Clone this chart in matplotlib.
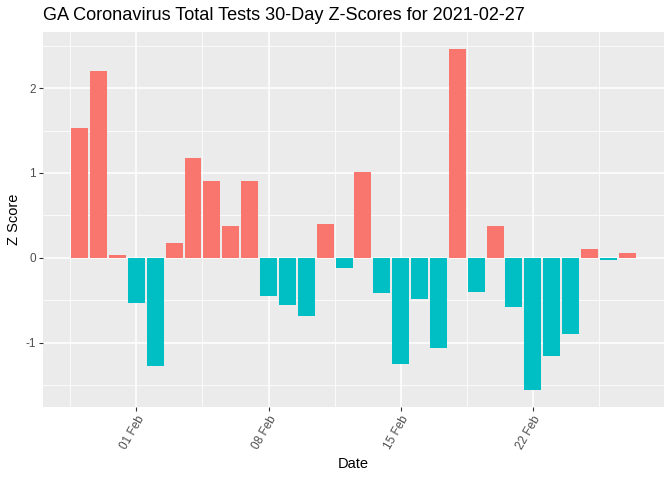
import numpy as np
import pandas as pd
import matplotlib
matplotlib.use("Agg")
import matplotlib.pyplot as plt
import matplotlib.dates as mdates
from matplotlib.ticker import FixedLocator

plt.rcParams["font.family"] = ["Liberation Sans", "DejaVu Sans"]
plt.rcParams["axes.unicode_minus"] = False

# data
dates = pd.date_range("2021-01-29", "2021-02-27", freq="D")
z_scores = [1.53, 2.20, 0.03, -0.53, -1.28, 0.17, 1.18, 0.91, 0.38, 0.91,
            -0.45, -0.56, -0.69, 0.40, -0.12, 1.01, -0.42, -1.25, -0.49, -1.06,
            2.46, -0.40, 0.37, -0.58, -1.56, -1.16, -0.90, 0.10, -0.03, 0.06]
pos_color = "#F8766D"
neg_color = "#00BFC4"

fig = plt.figure(figsize=(6.72, 4.8), dpi=100, facecolor="white")
ax = fig.add_axes([0.064, 0.152, 0.924, 0.781])
ax.set_facecolor("#EBEBEB")

x = mdates.date2num(dates)
vals = np.array(z_scores)
colors = [pos_color if v > 0 else neg_color for v in vals]
ax.bar(x, vals, width=0.9, color=colors, zorder=3)

# ggplot-like expansion
xr = (x.min() - 0.45, x.max() + 0.45)
xpad = (xr[1] - xr[0]) * 0.05
ax.set_xlim(xr[0] - xpad, xr[1] + xpad)
ypad = (vals.max() - vals.min()) * 0.05
ax.set_ylim(vals.min() - ypad, vals.max() + ypad)

major_dates = mdates.date2num(pd.to_datetime(["2021-02-01", "2021-02-08", "2021-02-15", "2021-02-22"]))
ax.xaxis.set_major_locator(FixedLocator(major_dates))
ax.xaxis.set_minor_locator(FixedLocator(np.concatenate([[major_dates[0] - 3.5], major_dates + 3.5])))
ax.xaxis.set_major_formatter(mdates.DateFormatter("%d %b"))
ax.yaxis.set_major_locator(FixedLocator([-1, 0, 1, 2]))
ax.yaxis.set_minor_locator(FixedLocator([-1.5, -0.5, 0.5, 1.5, 2.5]))

ax.grid(which="major", color="white", linewidth=1.1, zorder=1)
ax.grid(which="minor", color="white", linewidth=0.55, zorder=1)
ax.set_axisbelow(True)
for s in ax.spines.values():
    s.set_visible(False)

ax.tick_params(which="major", length=3, color="#333333", width=0.8, pad=2,
               labelsize=8.5, labelcolor="#4D4D4D")
ax.tick_params(which="minor", length=0)
for lbl in ax.get_xticklabels():
    lbl.set_rotation(60)
    lbl.set_ha("right")
    lbl.set_va("top")
    lbl.set_rotation_mode("anchor")

ax.set_xlabel("Date", fontsize=10.5, labelpad=4)
ax.set_ylabel("Z Score", fontsize=10.5, labelpad=3)
fig.text(0.064, 0.968, "GA Coronavirus Total Tests 30-Day Z-Scores for 2021-02-27",
         fontsize=13.1, ha="left", va="center")

plt.savefig("out.png", dpi=100)
